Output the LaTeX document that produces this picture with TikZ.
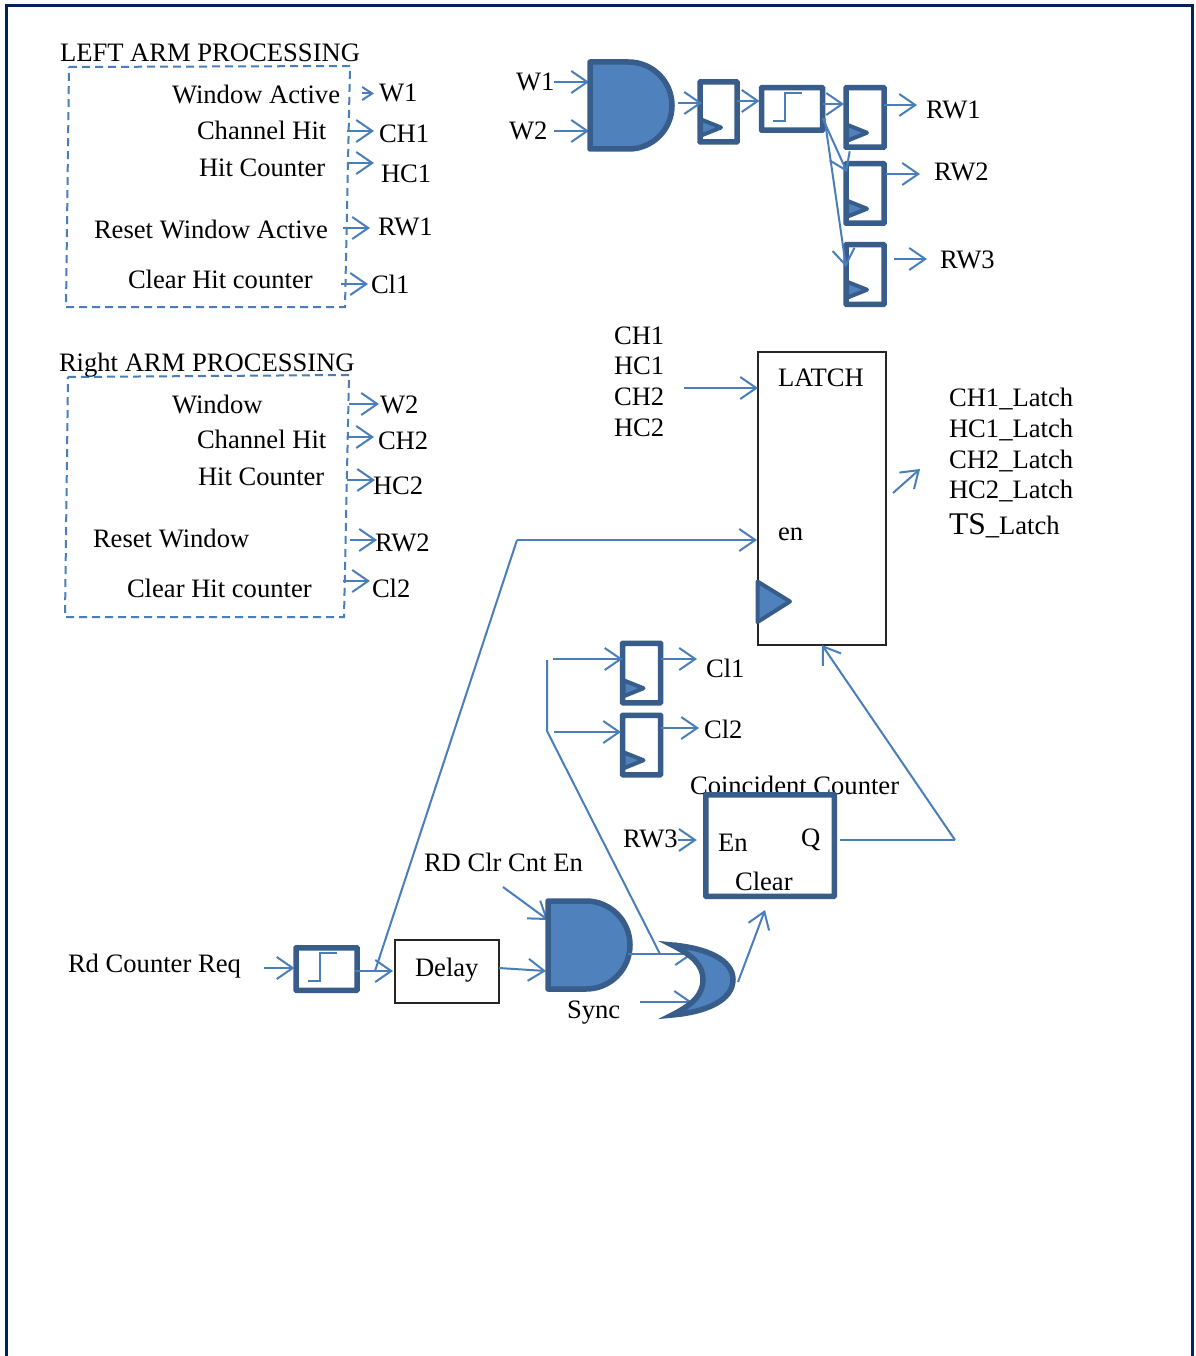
\documentclass[tikz,border=0pt]{standalone}
\usepackage{fontspec}
\setmainfont{Liberation Serif}
\usetikzlibrary{arrows.meta}
\definecolor{wire}{HTML}{4A7EBB}
\definecolor{gateline}{HTML}{385D8A}
\definecolor{gatefill}{HTML}{4F81BD}
\definecolor{framecol}{HTML}{002060}
\tikzset{
  lab/.style={anchor=base west,inner sep=0pt,outer sep=0pt,yshift=-0.5pt,font=\fontsize{26.6}{30}\selectfont,text=black},
  arr/.style={draw=wire,line width=2pt,-{Straight Barb[length=16pt,width=22pt,line width=2pt]}},
  arrsmall/.style={draw=wire,line width=2pt,-{Straight Barb[length=10pt,width=13pt,line width=2pt]}},
  wireline/.style={draw=wire,line width=2pt},
  dashbox/.style={draw=wire,line width=2pt,dash pattern=on 8pt off 5pt},
  heavybox/.style={draw=gateline,line width=5.5pt,rounded corners=0.5pt,inner sep=0pt,outer sep=0pt},
  thinbox/.style={draw=black!85,line width=1.3pt,inner sep=0pt,outer sep=0pt},
  ffbox/.style={heavybox,minimum width=38pt,minimum height=59.5pt},
  syncbox/.style={heavybox,minimum width=61pt,minimum height=42.5pt},
  gatebody/.style={draw=gateline,fill=gatefill,line width=5.5pt,line join=round},
  clockmark/.style={draw=gateline,fill=gatefill,line width=4pt,line join=round},
  anchorbox/.style={inner sep=0pt,outer sep=0pt},
  stepline/.style={draw=wire,line width=2pt}
}
\newcommand{\ffclk}[1]{\path[clockmark] ([xshift=1,yshift=22.5]#1.south west) -- ([xshift=21,yshift=14.5]#1.south west) -- ([xshift=1,yshift=6.5]#1.south west) -- cycle;}
\newcommand{\stepmark}[1]{\path[stepline] ([xshift=-19,yshift=-12]#1.center) -- ++(12,0) -- ++(0,-28) -- ++(17,0);}
\begin{document}
\begin{tikzpicture}[x=1pt,y=-1pt]
\useasboundingbox (0,0) rectangle (1195,1356);
\fill[white] (0,0) rectangle (1195,1356);
% frame
\draw[framecol,line width=3pt] (6,1356) -- (6,6) -- (1192,6) -- (1192,1356);

% left group
\draw[dashbox] (69,67) -- (350,66) -- (345,307) -- (66,307) -- cycle;
\node[lab] (ltitle) at (60,61) {LEFT ARM PROCESSING};
\node[lab] (la) at (172,103) {Window Active};
\node[lab] (lb) at (197,139) {Channel Hit};
\node[lab] (lc) at (199,176) {Hit Counter};
\node[lab] (ld) at (94,238) {Reset Window Active};
\node[lab] (le) at (128,288) {Clear Hit counter};
\node[lab] (ow1) at (379,101) {W1};
\node[lab] (och1) at (379,142) {CH1};
\node[lab] (ohc1) at (381,182) {HC1};
\node[lab] (orw1) at (378,235) {RW1};
\node[lab] (ocl1) at (371,293) {Cl1};
\draw[arrsmall] ([xshift=-17,yshift=8]ow1.base west) -- ([xshift=-5,yshift=8]ow1.base west);
\draw[arr] ([xshift=-32,yshift=11.5]och1.base west) -- ([xshift=-5,yshift=11.5]och1.base west);
\draw[arr] ([xshift=-34,yshift=19.5]ohc1.base west) -- ([xshift=-7,yshift=19.5]ohc1.base west);
\draw[arr] ([xshift=-35,yshift=7.5]orw1.base west) -- ([xshift=-8,yshift=7.5]orw1.base west);
\draw[arr] ([xshift=-30,yshift=9.5]ocl1.base west) -- ([xshift=-3,yshift=9.5]ocl1.base west);

% right group
\draw[dashbox] (68,377) -- (349,375) -- (344,617) -- (65,617) -- cycle;
\node[lab] (rtitle) at (59,371) {Right ARM PROCESSING};
\node[lab] (ra) at (172,413) {Window};
\node[lab] (rb) at (197,448) {Channel Hit};
\node[lab] (rc) at (198,485) {Hit Counter};
\node[lab] (rd) at (93,547) {Reset Window};
\node[lab] (re) at (127,597) {Clear Hit counter};
\node[lab] (ow2) at (380,413) {W2};
\node[lab] (och2) at (378,449) {CH2};
\node[lab] (ohc2) at (373,494) {HC2};
\node[lab] (orw2) at (375,551) {RW2};
\node[lab] (ocl2) at (372,597) {Cl2};
\draw[arr] ([xshift=-31,yshift=9.5]ow2.base west) -- ([xshift=-1,yshift=9.5]ow2.base west);
\draw[arr] ([xshift=-31,yshift=12.5]och2.base west) -- ([xshift=-4,yshift=12.5]och2.base west);
\draw[arr] ([xshift=-26,yshift=14.5]ohc2.base west) -- ([xshift=2,yshift=14.5]ohc2.base west);
\draw[arr] ([xshift=-25,yshift=11.5]orw2.base west) -- ([xshift=2,yshift=11.5]orw2.base west);
\draw[arr] ([xshift=-29,yshift=16.5]ocl2.base west) -- ([xshift=-2,yshift=16.5]ocl2.base west);

% window logic
\node[lab] (tw1) at (516,90) {W1};
\node[lab] (tw2) at (509,139) {W2};
\node[anchorbox,minimum width=82pt,minimum height=87pt] (anda) at (631,105.5) {};
\node[ffbox,minimum width=37pt,minimum height=60pt] (ffa) at (718.5,112) {};
\node[syncbox] (syncA) at (792,109) {};
\node[ffbox] (ffb) at (865,117.5) {};
\node[ffbox] (ffc) at (865,193.5) {};
\node[ffbox] (ffd) at (865,274.5) {};
\node[lab] (trw1) at (926,118) {RW1};
\node[lab] (trw2) at (934,180) {RW2};
\node[lab] (trw3) at (940,268) {RW3};
\draw[arr] ([xshift=38,yshift=8.5]tw1.base west) -- ([xshift=-1,yshift=23.5]anda.west);
\draw[arr] ([xshift=45,yshift=8.5]tw2.base west) -- ([xshift=-1,yshift=-25.5]anda.west);
\path[gatebody] (anda.north west) -- ++(38.5,0) arc[start angle=90,end angle=-90,radius=43.5pt] -- (anda.south west) -- cycle;
\ffclk{ffa}\ffclk{ffb}\ffclk{ffc}\ffclk{ffd}
\stepmark{syncA}
\draw[arr] ([xshift=6,yshift=2.5]anda.east) -- ([xshift=2,yshift=9]ffa.west);
\draw[arr] ([yshift=11]ffa.east) -- ([xshift=-2,yshift=8]syncA.west);
\draw[arr] ([yshift=5]syncA.east) -- ([xshift=-2,yshift=13.5]ffb.west);
\draw[arr] ([yshift=-9]syncA.east) -- ([xshift=1,yshift=21.5]ffc.west);
\draw[arr] ([xshift=2,yshift=-9]syncA.east) -- ([yshift=7.5]ffd.west);
\draw[arr] ([yshift=12.5]ffb.east) -- ([xshift=-9,yshift=13.5]trw1.base west);
\draw[arr] ([xshift=1.5,yshift=19.5]ffc.east) -- ([xshift=-14,yshift=6.5]trw2.base west);
\draw[arr] ([xshift=10,yshift=15.5]ffd.east) -- ([xshift=-13,yshift=9.5]trw3.base west);

% latch
\node[thinbox,minimum width=128pt,minimum height=293pt] (latch) at (822,498.5) {};
\node[lab] (tlatch) at (778,386) {LATCH};
\node[lab] (ten) at (778,540) {en};
\path[clockmark] (757.5,581.5) -- (790,601.5) -- (757.5,622) -- cycle;
\node[lab] (ich1) at (614,344) {CH1};
\node[lab] (ihc1) at (614,374) {HC1};
\node[lab] (ich2) at (614,405) {CH2};
\node[lab] (ihc2) at (614,436) {HC2};
\coordinate (latchin) at (684,388);
\draw[arr] (latchin) -- (latch.west |- latchin);
\node[lab] (ql1) at (949,406) {CH1\_Latch};
\node[lab] (ql2) at (949,437) {HC1\_Latch};
\node[lab] (ql3) at (949,468) {CH2\_Latch};
\node[lab] (ql4) at (949,498) {HC2\_Latch};
\node[lab] (ql5) at (949,534) {{\fontsize{31.5}{34}\selectfont TS}\_Latch};
\coordinate (latchout) at (893,493);
\coordinate (latchoutend) at (920,469);
\draw[arr] (latchout) -- (latchoutend);

% read logic
\node[lab] (trd) at (68,972) {Rd Counter Req};
\node[syncbox] (syncB) at (326.5,969) {};
\stepmark{syncB}
\node[thinbox,minimum width=104pt,minimum height=63pt] (delay) at (447,971.5) {};
\node[lab] (tdelay) at (415,976) {Delay};
\node[lab] (tclr) at (424,871) {RD Clr Cnt En};
\node[lab] (tsyncl) at (567,1018) {Sync};
\node[anchorbox,minimum width=82pt,minimum height=88pt] (andb) at (589,945) {};
\node[anchorbox,minimum width=75pt,minimum height=75pt] (orgate) at (697.5,979.5) {};
\coordinate (jn) at (375,971);
\coordinate (bend) at (517,540);
\coordinate (enpt) at (757,540);
\draw[arr] ([xshift=-32,yshift=1]syncB.west) -- ([xshift=-1.5,yshift=1]syncB.west);
\draw[arr] ([xshift=-2,yshift=-2]syncB.east) -- ([xshift=-2,yshift=0.5]delay.west);
\draw[wireline] (jn) -- (bend);
\draw[arr] (bend) -- (enpt);
\draw[arr] ([yshift=3.5]delay.east) -- ([xshift=-2,yshift=-26]andb.west);
\coordinate (clrstart) at (503,887);
\draw[arr] (clrstart) -- ([yshift=25]andb.west);
\path[gatebody] (andb.north west) -- ++(38,0) arc[start angle=90,end angle=-90,radius=44pt] -- (andb.south west) -- cycle;
\coordinate (br1) at (547,660);
\coordinate (br2) at (547,731);
\coordinate (br3) at (660,954);
\draw[wireline] (br1) -- (br2) -- (br3);
\draw[arr] ([xshift=-2,yshift=-9]andb.east) -- ([xshift=33,yshift=25.5]orgate.west);
\coordinate (or2in) at (640,1002);
\coordinate (or2end) at (692,1002);
\draw[arr] (or2in) -- (or2end);
\path[gatebody,line join=miter,miter limit=20] (672,945) .. controls (707,948) and (733,960) .. (733,979.5) .. controls (733,1000) and (707,1012) .. (672,1015) .. controls (692,1005) and (703,995) .. (703,979.5) .. controls (703,965) and (692,955) .. (672,945) -- cycle;
\draw[arr] ([xshift=3,yshift=-2.5]orgate.east) -- ([xshift=30,yshift=32]orgate.north east);

% clear registers
\node[ffbox] (ffe) at (641.5,673) {};
\node[ffbox] (fff) at (641.5,745) {};
\ffclk{ffe}\ffclk{fff}
\node[lab] (tcl1) at (706,677) {Cl1};
\node[lab] (tcl2) at (704,738) {Cl2};
\draw[arr] ([xshift=-69.5,yshift=14]ffe.west) -- ([yshift=14]ffe.west);
\draw[arr] ([xshift=-68.5,yshift=13]fff.west) -- ([xshift=-1.5,yshift=13]fff.west);
\draw[arr] ([yshift=14]ffe.east) -- ([xshift=-9,yshift=18.5]tcl1.base west);
\draw[arr] ([yshift=17]fff.east) -- ([xshift=-5,yshift=10.5]tcl2.base west);

% coincident counter
\node[lab] (tcc) at (690,794) {Coincident Counter};
\node[heavybox,minimum width=128.5pt,minimum height=101.5pt] (cc) at (770,845.5) {};
\node[lab] (ten2) at (718,851) {En};
\node[lab] (tq) at (801,846) {Q};
\node[lab] (tclear) at (735,890) {Clear};
\node[lab] (trw3b) at (623,847) {RW3};
\draw[arr] ([xshift=55,yshift=7.5]trw3b.base west) -- ([xshift=-9,yshift=5.5]cc.west);
\coordinate (fb) at (955,840);
\draw[wireline] ([xshift=5.75,yshift=5.5]cc.east) -- (fb);
\draw[arr] (fb) -- (latch.south);
\end{tikzpicture}
\end{document}
